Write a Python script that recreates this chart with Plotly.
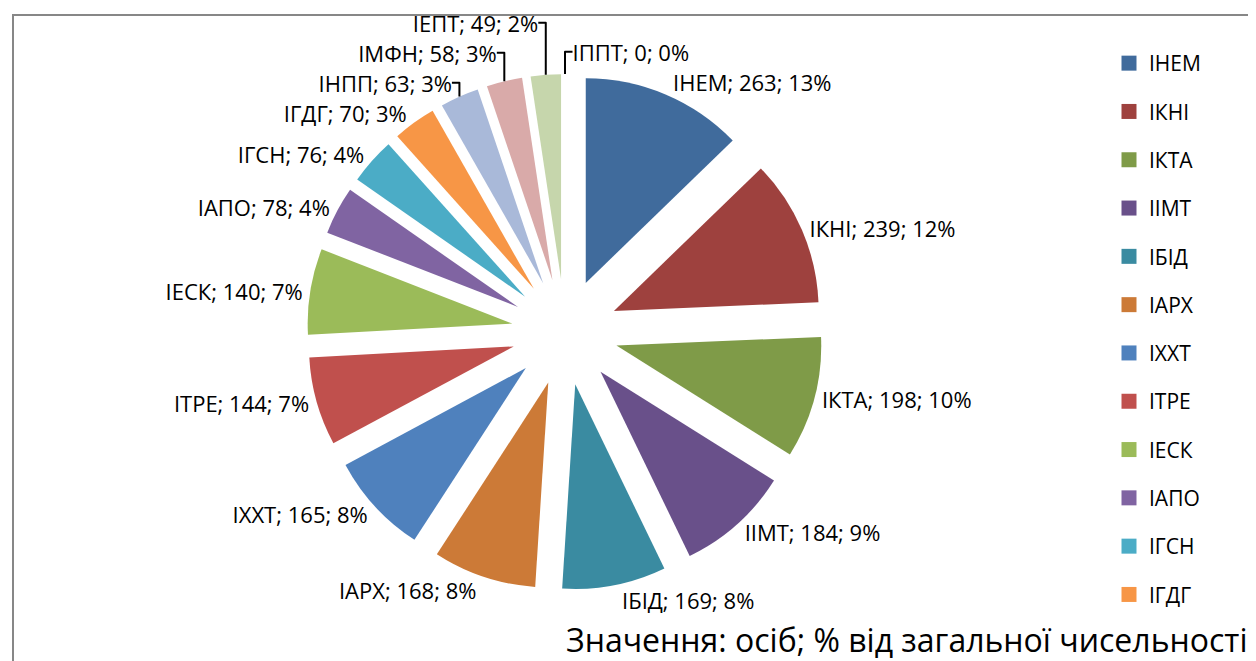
import plotly.graph_objects as go

labels = ["ІНЕМ", "ІКНІ", "ІКТА", "ІІМТ", "ІБІД", "ІАРХ", "ІХХТ", "ІТРЕ",
          "ІЕСК", "ІАПО", "ІГСН", "ІГДГ", "ІНПП", "ІМФН", "ІЕПТ", "ІППТ"]
values = [263, 239, 198, 184, 169, 168, 165, 144, 140, 78, 76, 70, 63, 58, 49, 0]
colors = ["#406B9C", "#9E413E", "#7F9B48", "#69508A", "#3A8BA1", "#CC7A37",
          "#4F81BD", "#C0504D", "#9BBB59", "#8064A2", "#4BACC6", "#F79646",
          "#A9B9D9", "#D9AAA9", "#C6D6AC", "#B9ADCB"]
legend_count = 12
note_text = "Значення: осіб; % від загальної чисельності"

W, H = 1256, 661
FONT = "Open Sans"

cx, cy, half = 557, 324, 258

fig = go.Figure()
fig.add_trace(go.Pie(
    labels=labels, values=values, sort=False, direction="clockwise", rotation=0,
    marker=dict(colors=colors, line=dict(width=0)),
    pull=[0.26] * len(values),
    textposition="outside",
    texttemplate="%{label}; %{value}; %{percent:.0%}",
    outsidetextfont=dict(family=FONT, size=22, color="#000000"),
    showlegend=False,
    domain=dict(x=[(cx - half) / W, (cx + half) / W],
                y=[(H - cy - half) / H, (H - cy + half) / H]),
    automargin=False,
    hoverinfo="label+value+percent",
))

for i in range(legend_count):
    fig.add_trace(go.Scatter(
        x=[None], y=[None], mode="markers", name=labels[i],
        legendgroup=labels[i],
        marker=dict(symbol="square", size=15, color=colors[i]),
        showlegend=True,
    ))

fig.update_layout(
    width=W, height=H,
    margin=dict(l=0, r=0, t=0, b=0),
    paper_bgcolor="white", plot_bgcolor="white",
    xaxis=dict(visible=False), yaxis=dict(visible=False),
    legend=dict(x=1101 / W, xanchor="left", y=(H - 35) / H, yanchor="top",
                font=dict(family=FONT, size=21, color="#000000"),
                tracegroupgap=18, bgcolor="rgba(0,0,0,0)"),
    shapes=[dict(type="rect", xref="paper", yref="paper",
                 x0=5 / W, x1=1249 / W, y0=-0.05, y1=(H - 7) / H,
                 line=dict(color="#878787", width=2))],
    annotations=[dict(text=note_text, xref="paper", yref="paper",
                      x=1241 / W, y=6 / H, xanchor="right", yanchor="bottom",
                      showarrow=False, font=dict(family=FONT, size=32, color="#000000"))],
)

fig.write_html("out.html")
